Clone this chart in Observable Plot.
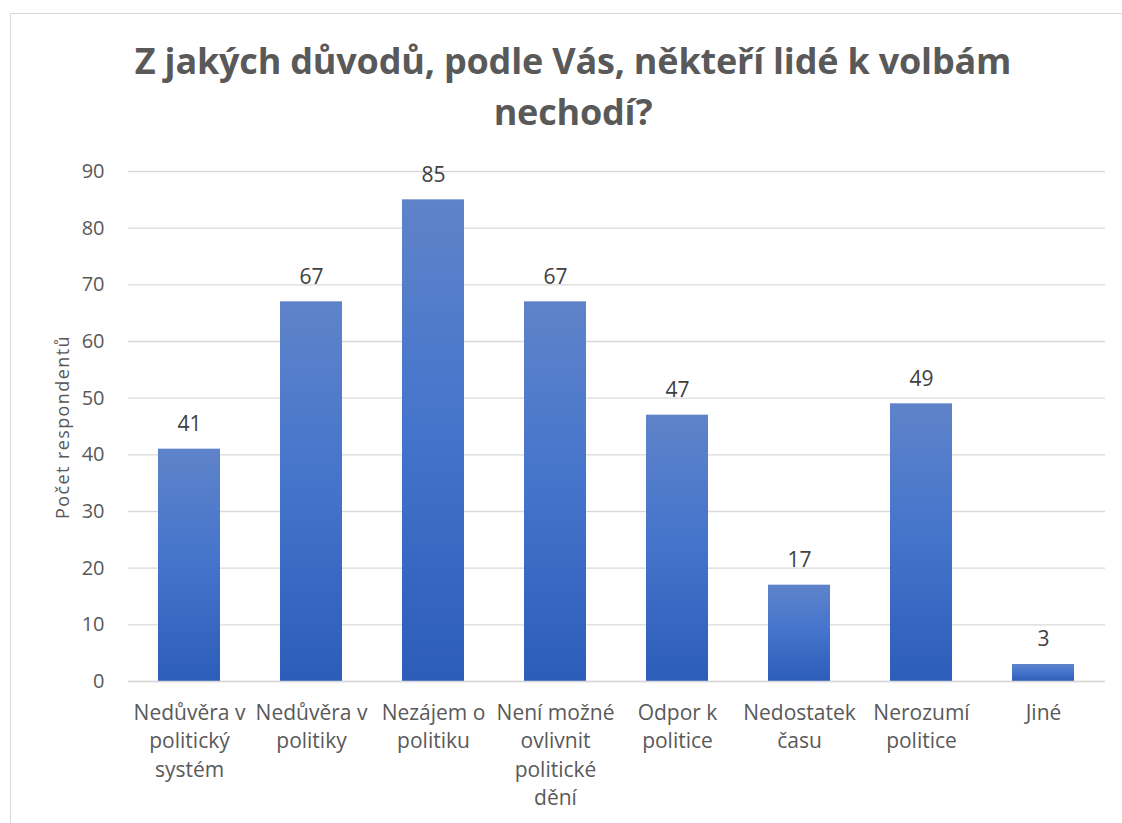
<!DOCTYPE html>
<html>
<head>
<meta charset="utf-8">
<script src="https://cdn.jsdelivr.net/npm/d3@7"></script>
<script src="https://cdn.jsdelivr.net/npm/@observablehq/plot@0.6"></script>
<style>
  html, body { margin: 0; padding: 0; background: #fff; }
  body { width: 1122px; height: 823px; position: relative; overflow: hidden; font-family: "Open Sans", sans-serif; }
  #frame { position: absolute; left: 10px; top: 13px; width: 1200px; height: 900px; border: 1px solid #d9d9d9; box-sizing: border-box; }
  #title { position: absolute; left: 12px; top: 35px; width: 1122px; text-align: center; font-weight: bold; font-size: 36px; line-height: 51px; color: #595959; letter-spacing: -0.2px; }
  #ylabel { position: absolute; left: 62px; top: 427px; transform: translate(-50%, -50%) rotate(-90deg); white-space: nowrap; font-size: 18px; letter-spacing: 1.4px; color: #595959; }
  #chart { position: absolute; left: 0; top: 150px; }
</style>
</head>
<body>
<div id="frame"></div>
<div id="title">Z jakých důvodů, podle Vás, někteří lidé k volbám<br>nechodí?</div>
<div id="chart"></div>
<div id="ylabel">Počet respondentů</div>
<script>
const categories = ["Nedůvěra v politický systém", "Nedůvěra v politiky", "Nezájem o politiku", "Není možné ovlivnit politické dění", "Odpor k politice", "Nedostatek času", "Nerozumí politice", "Jiné"];
const values = [41, 67, 85, 67, 47, 17, 49, 3];
const tickLabels = ["Nedůvěra v\npolitický\nsystém", "Nedůvěra v\npolitiky", "Nezájem o\npolitiku", "Není možné\novlivnit\npolitické\ndění", "Odpor k\npolitice", "Nedostatek\nčasu", "Nerozumí\npolitice", "Jiné"];
const yTicks = [0, 10, 20, 30, 40, 50, 60, 70, 80, 90];

const data = categories.map((c, i) => ({category: c, value: values[i]}));
const labelOf = new Map(categories.map((c, i) => [c, tickLabels[i]]));

const svg = Plot.plot({
  width: 1122,
  height: 673,
  marginLeft: 128,
  marginRight: 17,
  marginTop: 21,
  marginBottom: 142,
  style: {fontFamily: "'Open Sans', sans-serif", background: "transparent", overflow: "visible"},
  x: {domain: categories, paddingInner: 0.49, paddingOuter: 0.245, label: null},
  y: {domain: [0, 90], label: null},
  marks: [
    Plot.gridY(yTicks, {stroke: "#d9d9d9", strokeOpacity: 1, strokeWidth: 1.3}),
    Plot.barY(data, {x: "category", y: "value", fill: "url(#barGrad)", style: "filter: drop-shadow(0px 1px 2px rgba(0,0,0,0.25))"}),
    Plot.ruleY([0], {stroke: "#d9d9d9", strokeWidth: 1.3}),
    Plot.text(data, {x: "category", y: "value", text: d => String(d.value), dy: -25, fontSize: 21, fill: "#404040"}),
    Plot.axisY(yTicks, {tickSize: 0, tickPadding: 24, fontSize: 20, color: "#595959", label: null}),
    Plot.axisX({tickSize: 0, tickPadding: 18, fontSize: 21, color: "#595959", lineHeight: 1.36, tickFormat: c => labelOf.get(c), label: null})
  ]
});

const defs = d3.select(svg).insert("defs", ":first-child");
const grad = defs.append("linearGradient").attr("id", "barGrad").attr("x1", 0).attr("y1", 0).attr("x2", 0).attr("y2", 1);
grad.append("stop").attr("offset", "0%").attr("stop-color", "#5f83c9");
grad.append("stop").attr("offset", "45%").attr("stop-color", "#4675cc");
grad.append("stop").attr("offset", "100%").attr("stop-color", "#2c5db8");

document.getElementById("chart").appendChild(svg);
</script>
</body>
</html>
